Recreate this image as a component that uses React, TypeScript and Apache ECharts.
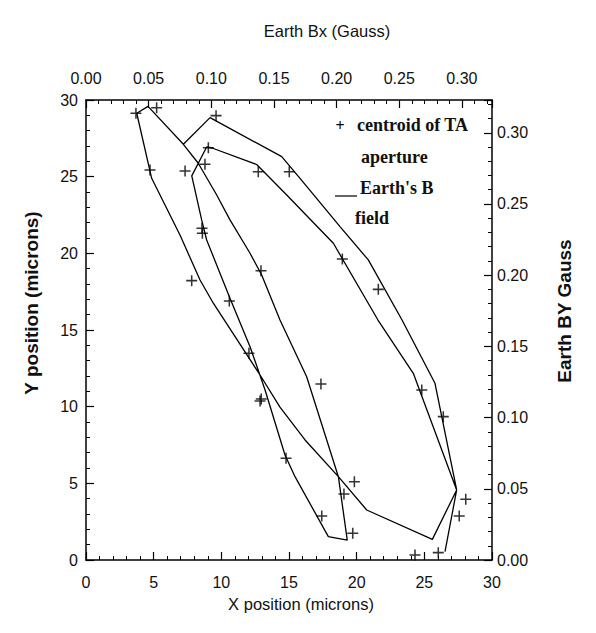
import React, { useEffect, useRef } from "react";
import * as echarts from "echarts";

// Centroid of TA aperture (X, Y position in microns)
const crossX = [3.69, 5.22, 9.61, 4.73, 7.32, 8.79, 9.04, 12.73, 15.02, 8.57, 8.6, 7.81, 10.59, 12.93, 18.94, 21.6, 12.04, 12.86, 12.95, 14.78, 17.36, 24.81, 26.4, 19.83, 19.06, 17.42, 19.71, 24.31, 26.03, 28.06, 27.58];
const crossY = [29.13, 29.5, 28.98, 25.43, 25.37, 25.81, 26.89, 25.32, 25.32, 21.63, 21.31, 18.22, 16.89, 18.87, 19.63, 17.65, 13.48, 10.37, 10.5, 6.63, 11.48, 11.09, 9.35, 5.11, 4.3, 2.87, 1.74, 0.33, 0.48, 3.96, 2.87];

// Earth's B field path (Bx, By in Gauss)
const fieldBx = [0.2865, 0.2958, 0.2764, 0.224, 0.2014, 0.1748, 0.1548, 0.1389, 0.1016, 0.091, 0.075, 0.0524, 0.0405, 0.0495, 0.0777, 0.0896, 0.1043, 0.1149, 0.1309, 0.1402, 0.1548, 0.1761, 0.2014, 0.2085, 0.1934, 0.1668, 0.1588, 0.1429, 0.1309, 0.1149, 0.0963, 0.0923, 0.0844, 0.0963, 0.1006, 0.1362, 0.1602, 0.1974, 0.233, 0.2612, 0.2958, 0.2785, 0.2522, 0.2253, 0.2027, 0.1708, 0.1562, 0.099, 0.0777];
const fieldBy = [0.0058, 0.0492, 0.0145, 0.0351, 0.0585, 0.0843, 0.1074, 0.1299, 0.1803, 0.1966, 0.2282, 0.268, 0.3137, 0.3185, 0.2919, 0.2786, 0.2563, 0.2388, 0.2154, 0.2001, 0.1685, 0.1287, 0.0585, 0.014, 0.0164, 0.0585, 0.0737, 0.1194, 0.1498, 0.1838, 0.2247, 0.2388, 0.2697, 0.29, 0.2893, 0.2777, 0.2563, 0.2224, 0.1685, 0.1311, 0.0492, 0.1241, 0.1685, 0.2107, 0.2341, 0.268, 0.2832, 0.3106, 0.2919];

const legendLines = ["centroid of TA", "aperture", "Earth's B", "field"];

const xTitle = "X position (microns)";
const yTitle = "Y position (microns)";
const bxTitle = "Earth Bx (Gauss)";
const byTitle = "Earth BY Gauss";

const SANS = "Liberation Sans, Arial, sans-serif";
const SERIF = "Liberation Serif, Times New Roman, serif";

const axisCommon = {
  type: "value" as const,
  axisLine: { show: true, onZero: false, lineStyle: { color: "#000", width: 1.5 } },
  axisTick: { show: true, inside: true, length: 8, lineStyle: { color: "#000", width: 1.2 } },
  minorTick: { show: true, splitNumber: 5, length: 4, lineStyle: { color: "#000", width: 1 } },
  splitLine: { show: false },
};

export default function App() {
  const ref = useRef<HTMLDivElement>(null);
  useEffect(() => {
    if (!ref.current) return;
    const chart = echarts.init(ref.current, undefined, { renderer: "svg" });
    const crossData = crossX.map((x, i) => [x, crossY[i]]);
    const fieldData = fieldBx.map((x, i) => [x, fieldBy[i]]);
    const labelStyle = { fontFamily: SANS, fontSize: 16, color: "#111" };
    chart.setOption({
      animation: false,
      backgroundColor: "#fff",
      grid: { left: 86, right: 104, top: 100, bottom: 73 },
      xAxis: [
        {
          ...axisCommon,
          position: "bottom",
          min: 0,
          max: 30,
          interval: 5,
          axisLabel: { ...labelStyle, margin: 14 },
        },
        {
          ...axisCommon,
          position: "top",
          min: 0,
          max: 0.324,
          interval: 0.05,
          axisLabel: {
            ...labelStyle,
            margin: 14,
            showMaxLabel: false,
            formatter: (v: number) => v.toFixed(2),
          },
        },
      ],
      yAxis: [
        {
          ...axisCommon,
          position: "left",
          min: 0,
          max: 30,
          interval: 5,
          axisLabel: { ...labelStyle, margin: 8 },
        },
        {
          ...axisCommon,
          position: "right",
          min: 0,
          max: 0.323,
          interval: 0.05,
          axisLabel: {
            ...labelStyle,
            margin: 5,
            showMaxLabel: false,
            formatter: (v: number) => v.toFixed(2),
          },
        },
      ],
      series: [
        {
          type: "line",
          name: "Earth's B field",
          xAxisIndex: 1,
          yAxisIndex: 1,
          data: fieldData,
          showSymbol: false,
          symbol: "none",
          lineStyle: { color: "#000", width: 1.3 },
          z: 2,
        },
        {
          type: "scatter",
          name: "centroid of TA aperture",
          xAxisIndex: 0,
          yAxisIndex: 0,
          data: crossData,
          symbol: "path://M4.3,0H5.7V4.3H10V5.7H5.7V10H4.3V5.7H0V4.3H4.3Z",
          symbolSize: 11,
          itemStyle: { color: "#000" },
          z: 3,
        },
      ],
      graphic: [
        {
          type: "text",
          x: 327,
          y: 31,
          style: { text: bxTitle, font: `16.5px ${SANS}`, fill: "#111", align: "center", verticalAlign: "middle" },
        },
        {
          type: "text",
          x: 301,
          y: 604,
          style: { text: xTitle, font: `16.5px ${SANS}`, fill: "#111", align: "center", verticalAlign: "middle" },
        },
        {
          type: "text",
          x: 31,
          y: 303,
          rotation: Math.PI / 2,
          style: { text: yTitle, font: `bold 19px ${SANS}`, fill: "#111", align: "center", verticalAlign: "middle" },
        },
        {
          type: "text",
          x: 564,
          y: 311,
          rotation: Math.PI / 2,
          style: { text: byTitle, font: `bold 19px ${SANS}`, fill: "#111", align: "center", verticalAlign: "middle" },
        },
        {
          type: "text",
          x: 340,
          y: 125,
          style: { text: "+", font: `bold 16px ${SERIF}`, fill: "#000", align: "center", verticalAlign: "middle" },
        },
        {
          type: "line",
          shape: { x1: 335, y1: 196, x2: 357, y2: 196 },
          style: { stroke: "#000", lineWidth: 1.2 },
        },
        {
          type: "text",
          x: 357,
          y: 125,
          style: { text: legendLines[0], font: `bold 18px ${SERIF}`, fill: "#111", verticalAlign: "middle" },
        },
        {
          type: "text",
          x: 361,
          y: 157,
          style: { text: legendLines[1], font: `bold 18px ${SERIF}`, fill: "#111", verticalAlign: "middle" },
        },
        {
          type: "text",
          x: 360,
          y: 188,
          style: { text: legendLines[2], font: `bold 18px ${SERIF}`, fill: "#111", verticalAlign: "middle" },
        },
        {
          type: "text",
          x: 355,
          y: 218,
          style: { text: legendLines[3], font: `bold 18px ${SERIF}`, fill: "#111", verticalAlign: "middle" },
        },
      ],
    });
    return () => chart.dispose();
  }, []);
  return (
    <div
      ref={ref}
      style={{ position: "fixed", left: 0, top: 0, width: 596, height: 633, background: "#fff" }}
    />
  );
}
